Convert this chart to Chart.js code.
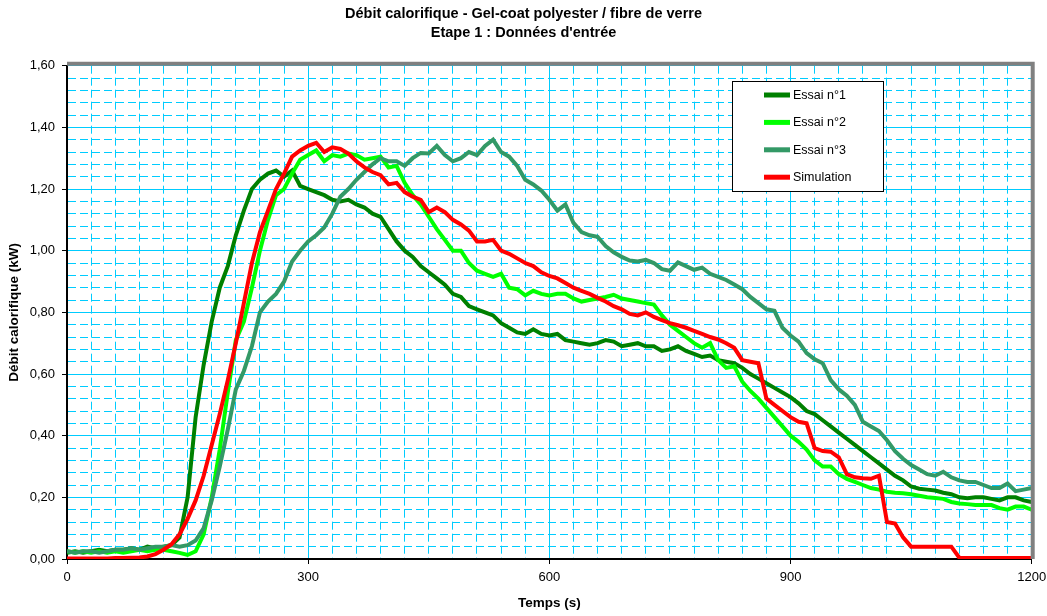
<!DOCTYPE html>
<html>
<head>
<meta charset="utf-8">
<title>Débit calorifique - Gel-coat polyester / fibre de verre</title>
<script src="https://cdn.jsdelivr.net/npm/chart.js@4.4.1/dist/chart.umd.min.js"></script>
<style>
    body { margin: 0; background: #fff; }
    #wrap { width: 1047px; height: 616px; }
</style>
</head>
<body>
<div id="wrap"><canvas id="hrrChart" width="1047" height="616"></canvas></div>
<script>
// Temps (s) - one reading every 10 s
var temps = [0, 10, 20, 30, 40, 50, 60, 70, 80, 90, 100, 110, 120, 130, 140, 150, 160, 170, 180, 190,
    200, 210, 220, 230, 240, 250, 260, 270, 280, 290, 300, 310, 320, 330, 340, 350, 360, 370, 380, 390,
    400, 410, 420, 430, 440, 450, 460, 470, 480, 490, 500, 510, 520, 530, 540, 550, 560, 570, 580, 590,
    600, 610, 620, 630, 640, 650, 660, 670, 680, 690, 700, 710, 720, 730, 740, 750, 760, 770, 780, 790,
    800, 810, 820, 830, 840, 850, 860, 870, 880, 890, 900, 910, 920, 930, 940, 950, 960, 970, 980, 990,
    1000, 1010, 1020, 1030, 1040, 1050, 1060, 1070, 1080, 1090, 1100, 1110, 1120, 1130, 1140, 1150, 1160, 1170, 1180, 1190,
    1200];

// Débit calorifique (kW)
var essai1 = [0.02, 0.025, 0.02, 0.025, 0.03, 0.025, 0.03, 0.03, 0.035, 0.03, 0.04, 0.035, 0.04, 0.045, 0.07, 0.20, 0.46, 0.63, 0.77, 0.88,
    0.95, 1.05, 1.13, 1.20, 1.23, 1.25, 1.26, 1.24, 1.26, 1.21, 1.20, 1.19, 1.18, 1.165, 1.16, 1.165, 1.15, 1.14, 1.12, 1.11,
    1.07, 1.03, 1.00, 0.98, 0.95, 0.93, 0.91, 0.89, 0.86, 0.85, 0.82, 0.81, 0.80, 0.79, 0.765, 0.75, 0.735, 0.73, 0.745, 0.73,
    0.725, 0.73, 0.71, 0.705, 0.70, 0.695, 0.70, 0.71, 0.705, 0.69, 0.695, 0.70, 0.69, 0.69, 0.675, 0.68, 0.69, 0.675, 0.665, 0.655,
    0.66, 0.645, 0.64, 0.635, 0.62, 0.60, 0.585, 0.57, 0.555, 0.54, 0.525, 0.505, 0.48, 0.47, 0.45, 0.43, 0.41, 0.39, 0.37, 0.35,
    0.33, 0.31, 0.29, 0.27, 0.255, 0.235, 0.228, 0.225, 0.222, 0.215, 0.21, 0.20, 0.197, 0.20, 0.20, 0.195, 0.19, 0.20, 0.20, 0.19,
    0.185];

var essai2 = [0.025, 0.02, 0.025, 0.02, 0.025, 0.02, 0.025, 0.02, 0.025, 0.03, 0.025, 0.03, 0.03, 0.025, 0.02, 0.013, 0.025, 0.08, 0.20, 0.355,
    0.54, 0.71, 0.77, 0.88, 1.00, 1.10, 1.18, 1.20, 1.25, 1.295, 1.31, 1.325, 1.29, 1.31, 1.305, 1.315, 1.31, 1.295, 1.30, 1.305,
    1.27, 1.275, 1.22, 1.18, 1.15, 1.11, 1.07, 1.035, 1.00, 1.00, 0.96, 0.935, 0.925, 0.915, 0.925, 0.88, 0.875, 0.855, 0.87, 0.86,
    0.855, 0.86, 0.86, 0.845, 0.835, 0.84, 0.845, 0.85, 0.857, 0.845, 0.84, 0.835, 0.83, 0.825, 0.79, 0.76, 0.74, 0.72, 0.70, 0.685,
    0.70, 0.645, 0.62, 0.625, 0.575, 0.545, 0.52, 0.49, 0.46, 0.43, 0.40, 0.38, 0.355, 0.32, 0.30, 0.30, 0.275, 0.26, 0.25, 0.24,
    0.23, 0.225, 0.218, 0.215, 0.213, 0.21, 0.205, 0.20, 0.198, 0.195, 0.185, 0.18, 0.178, 0.175, 0.175, 0.175, 0.165, 0.16, 0.17, 0.17,
    0.16];

var essai3 = [0.025, 0.02, 0.025, 0.025, 0.02, 0.025, 0.03, 0.03, 0.035, 0.03, 0.035, 0.04, 0.04, 0.045, 0.04, 0.045, 0.06, 0.10, 0.19, 0.30,
    0.42, 0.55, 0.61, 0.69, 0.80, 0.835, 0.86, 0.90, 0.965, 1.00, 1.03, 1.05, 1.075, 1.12, 1.175, 1.20, 1.23, 1.255, 1.28, 1.30,
    1.29, 1.29, 1.275, 1.30, 1.317, 1.315, 1.34, 1.31, 1.29, 1.30, 1.32, 1.31, 1.34, 1.36, 1.32, 1.305, 1.275, 1.23, 1.215, 1.195,
    1.165, 1.13, 1.15, 1.09, 1.06, 1.05, 1.045, 1.015, 0.995, 0.98, 0.968, 0.965, 0.97, 0.96, 0.94, 0.935, 0.962, 0.95, 0.938, 0.945,
    0.925, 0.915, 0.905, 0.89, 0.875, 0.85, 0.83, 0.81, 0.805, 0.75, 0.725, 0.705, 0.668, 0.648, 0.635, 0.58, 0.55, 0.53, 0.50, 0.445,
    0.43, 0.415, 0.385, 0.35, 0.325, 0.305, 0.29, 0.275, 0.27, 0.283, 0.265, 0.255, 0.25, 0.25, 0.24, 0.23, 0.23, 0.245, 0.22, 0.225,
    0.23];

var simulation = [0.002, 0.002, 0.002, 0.002, 0.002, 0.002, 0.003, 0.003, 0.004, 0.005, 0.008, 0.016, 0.03, 0.048, 0.08, 0.13, 0.19, 0.27, 0.37, 0.47,
    0.58, 0.70, 0.83, 0.96, 1.06, 1.13, 1.20, 1.25, 1.305, 1.325, 1.34, 1.35, 1.32, 1.335, 1.33, 1.315, 1.29, 1.27, 1.255, 1.245,
    1.215, 1.22, 1.19, 1.175, 1.165, 1.125, 1.14, 1.125, 1.10, 1.085, 1.065, 1.03, 1.03, 1.035, 1.00, 0.99, 0.975, 0.96, 0.95, 0.93,
    0.918, 0.91, 0.895, 0.88, 0.87, 0.86, 0.847, 0.835, 0.82, 0.81, 0.795, 0.79, 0.80, 0.785, 0.775, 0.765, 0.758, 0.75, 0.74, 0.73,
    0.72, 0.712, 0.70, 0.685, 0.645, 0.64, 0.635, 0.52, 0.50, 0.48, 0.46, 0.445, 0.44, 0.36, 0.35, 0.348, 0.33, 0.275, 0.265, 0.262,
    0.26, 0.27, 0.12, 0.115, 0.07, 0.04, 0.04, 0.04, 0.04, 0.04, 0.04, 0.004, 0.003, 0.003, 0.003, 0.003, 0.003, 0.003, 0.003, 0.003,
    0.003];

var seriesNames = ['Essai n°1', 'Essai n°2', 'Essai n°3', 'Simulation'];
var seriesColors = ['#008000', '#00FF00', '#339966', '#FF0000'];

// Pair each reading with its time
function toPoints(values) {
    return temps.map((t, i) => ({ x: t, y: values[i] }));
}

function isMajorX(value) { return value % 300 === 0; }
function isMajorY(value) { return Math.round(value * 100) % 20 === 0; }

// Gray frame on top and right of the plot (Excel style)
var plotFrame = {
    id: 'plotFrame',
    afterDatasetsDraw(chart) {
        var a = chart.chartArea;
        var ctx = chart.ctx;
        ctx.save();
        ctx.strokeStyle = '#808080';
        ctx.lineWidth = 4;
        ctx.beginPath();
        ctx.moveTo(a.left, a.top - 2);
        ctx.lineTo(a.right + 1, a.top - 2);
        ctx.lineTo(a.right + 1, a.bottom);
        ctx.stroke();
        ctx.restore();
    }
};

// Boxed legend inside the plot area
var legendBox = {
    id: 'legendBox',
    afterDraw(chart) {
        var ctx = chart.ctx;
        ctx.save();
        ctx.fillStyle = '#fff';
        ctx.fillRect(732.5, 81.5, 151, 110);
        ctx.strokeStyle = '#000';
        ctx.lineWidth = 1;
        ctx.strokeRect(732.5, 81.5, 151, 110);
        ctx.font = '12.5px "Liberation Sans", Arial, sans-serif';
        ctx.textBaseline = 'middle';
        chart.data.datasets.forEach((ds, i) => {
            var y = 95 + i * 27.4;
            ctx.strokeStyle = ds.borderColor;
            ctx.lineWidth = 5;
            ctx.beginPath();
            ctx.moveTo(764, y);
            ctx.lineTo(790, y);
            ctx.stroke();
            ctx.fillStyle = '#000';
            ctx.fillText(ds.label, 793, y + 0.5);
        });
        ctx.restore();
    }
};

Chart.defaults.font.family = '"Liberation Sans", Arial, sans-serif';
Chart.defaults.color = '#000';

var ctx = document.getElementById('hrrChart').getContext('2d');
new Chart(ctx, {
    type: 'line',
    data: {
        datasets: [essai1, essai2, essai3, simulation].map((values, i) => ({
            label: seriesNames[i],
            data: toPoints(values),
            borderColor: seriesColors[i],
            backgroundColor: seriesColors[i],
            borderWidth: 4,
            pointRadius: 0,
            tension: 0,
            fill: false,
            order: 3 - i
        }))
    },
    options: {
        responsive: false,
        animation: false,
        layout: { padding: 0 },
        scales: {
            x: {
                type: 'linear',
                min: 0,
                max: 1200,
                afterFit: (scale) => {
                    scale.height = 57;
                    scale.paddingLeft = 0;
                    scale.paddingRight = 0;
                },
                ticks: {
                    stepSize: 30,
                    autoSkip: false,
                    maxRotation: 0,
                    padding: 6,
                    font: { size: 13 },
                    callback: (value) => isMajorX(value) ? value : ''
                },
                grid: {
                    color: '#00CCFF',
                    lineWidth: 1,
                    tickLength: 5,
                    tickColor: (c) => (c.tick && isMajorX(c.tick.value)) ? '#000' : 'rgba(0,0,0,0)'
                },
                border: {
                    color: '#000',
                    width: 2,
                    dash: (c) => (c.tick && !isMajorX(c.tick.value)) ? [8, 4] : []
                },
                title: {
                    display: true,
                    text: 'Temps (s)',
                    font: { size: 13.5, weight: 'bold' },
                    padding: { top: 0, bottom: 5 }
                }
            },
            y: {
                min: 0,
                max: 1.6,
                afterFit: (scale) => { scale.width = 67; },
                ticks: {
                    stepSize: 0.04,
                    autoSkip: false,
                    padding: 7,
                    font: { size: 13 },
                    callback: (value) => isMajorY(value) ? value.toFixed(2).replace('.', ',') : ''
                },
                grid: {
                    color: '#00CCFF',
                    lineWidth: 1,
                    tickLength: 5,
                    tickColor: (c) => (c.tick && isMajorY(c.tick.value)) ? '#000' : 'rgba(0,0,0,0)'
                },
                border: {
                    color: '#000',
                    width: 2,
                    dash: (c) => (c.tick && !isMajorY(c.tick.value)) ? [8, 4] : []
                },
                title: {
                    display: true,
                    text: 'Débit calorifique (kW)',
                    font: { size: 13.5, weight: 'bold' },
                    padding: { top: 6, bottom: 0 }
                }
            },
            // empty right margin, keeps the main title centred on the whole figure
            yMargin: {
                position: 'right',
                afterFit: (scale) => { scale.width = 15.3; },
                ticks: { display: false },
                grid: { display: false, drawOnChartArea: false },
                border: { display: false }
            }
        },
        plugins: {
            legend: { display: false },
            tooltip: { enabled: false },
            title: {
                display: true,
                text: ['Débit calorifique - Gel-coat polyester / fibre de verre', "Etape 1 : Données d'entrée"],
                font: { size: 14.5, weight: 'bold', lineHeight: 1.31 },
                padding: { top: 4.5, bottom: 23.2 }
            }
        }
    },
    plugins: [plotFrame, legendBox]
});
</script>
</body>
</html>
